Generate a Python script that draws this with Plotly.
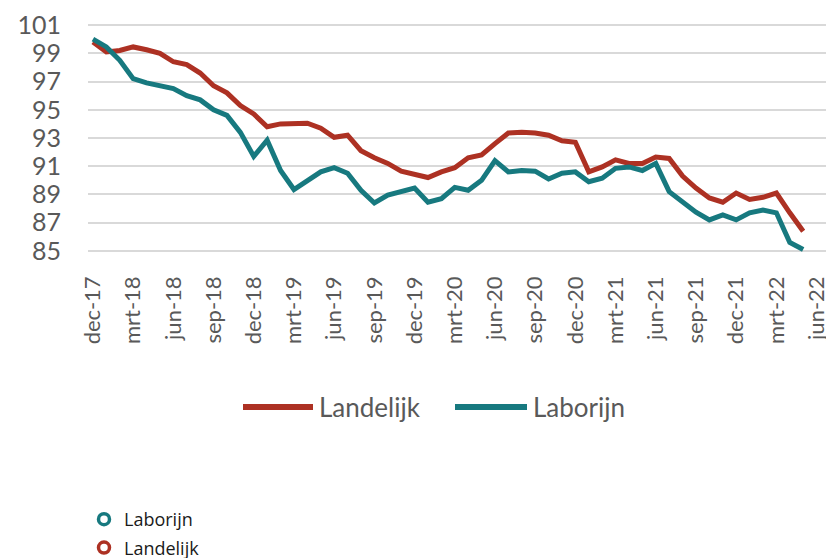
import plotly.graph_objects as go

months = [
    "dec-17", "jan-18", "feb-18", "mrt-18", "apr-18", "mei-18", "jun-18", "jul-18", "aug-18", "sep-18", "okt-18", "nov-18",
    "dec-18", "jan-19", "feb-19", "mrt-19", "apr-19", "mei-19", "jun-19", "jul-19", "aug-19", "sep-19", "okt-19", "nov-19",
    "dec-19", "jan-20", "feb-20", "mrt-20", "apr-20", "mei-20", "jun-20", "jul-20", "aug-20", "sep-20", "okt-20", "nov-20",
    "dec-20", "jan-21", "feb-21", "mrt-21", "apr-21", "mei-21", "jun-21", "jul-21", "aug-21", "sep-21", "okt-21", "nov-21",
    "dec-21", "jan-22", "feb-22", "mrt-22", "apr-22", "mei-22",
]

landelijk = [
    99.8, 99.1, 99.2, 99.45, 99.25, 99.0, 98.4, 98.2, 97.6, 96.7, 96.2, 95.3,
    94.7, 93.8, 94.0, 94.05, 94.05, 93.7, 93.05, 93.2, 92.1, 91.6, 91.2, 90.65,
    90.4, 90.2, 90.6, 90.9, 91.6, 91.8, 92.6, 93.35, 93.4, 93.35, 93.2, 92.8,
    92.7, 90.6, 90.95, 91.45, 91.2, 91.2, 91.65, 91.55, 90.3, 89.45, 88.75, 88.45,
    89.1, 88.65, 88.8, 89.1, 87.7, 86.4,
]

laborijn = [
    100.0, 99.45, 98.5, 97.2, 96.9, 96.7, 96.5, 96.0, 95.7, 95.0, 94.6, 93.4,
    91.7, 92.85, 90.7, 89.35, 89.95, 90.6, 90.9, 90.5, 89.3, 88.4, 88.95, 89.2,
    89.45, 88.45, 88.7, 89.5, 89.3, 90.0, 91.4, 90.6, 90.7, 90.65, 90.1, 90.5,
    90.6, 89.9, 90.15, 90.85, 90.95, 90.7, 91.2, 89.2, 88.45, 87.75, 87.2, 87.55,
    87.2, 87.7, 87.9, 87.7, 85.6, 85.1,
]

tick_labels = ["dec-17", "mrt-18", "jun-18", "sep-18", "dec-18", "mrt-19", "jun-19", "sep-19",
               "dec-19", "mrt-20", "jun-20", "sep-20", "dec-20", "mrt-21", "jun-21", "sep-21",
               "dec-21", "mrt-22", "jun-22"]
y_ticks = [85, 87, 89, 91, 93, 95, 97, 99, 101]

RED = "#AD3123"
TEAL = "#17797F"
GREY = "#595959"

x_idx = list(range(len(months)))
tick_pos = [3 * k for k in range(len(tick_labels))]

fig = go.Figure()
fig.add_trace(go.Scatter(x=x_idx, y=landelijk, mode="lines", name="Landelijk", legendgroup="land",
                         showlegend=False, line=dict(color=RED, width=5), customdata=months,
                         hovertemplate="%{customdata}: %{y}<extra>Landelijk</extra>"))
fig.add_trace(go.Scatter(x=x_idx, y=laborijn, mode="lines", name="Laborijn", legendgroup="lab",
                         showlegend=False, line=dict(color=TEAL, width=5), customdata=months,
                         hovertemplate="%{customdata}: %{y}<extra>Laborijn</extra>"))
# legend entries (bottom)
fig.add_trace(go.Scatter(x=[None], y=[None], mode="markers", name="Laborijn", legendgroup="lab",
                         marker=dict(symbol="circle-open", size=11, color=TEAL, line=dict(width=3.5, color=TEAL))))
fig.add_trace(go.Scatter(x=[None], y=[None], mode="markers", name="Landelijk", legendgroup="land",
                         marker=dict(symbol="circle-open", size=11, color=RED, line=dict(width=3.5, color=RED))))

# page body has an 8px margin: work in screen pixels and subtract it
OFF = 8
FW, FH = 834 - OFF, 558 - OFF
L, T, W, H = 88 - OFF, 18 - OFF, 746, 240


def px(x):
    return (x - OFF - L) / W


def py(y):
    return (T + H - (y - OFF)) / H


# in-chart line legend
for x0, x1, tx, col, txt in [(243, 313, 317, RED, "Landelijk"), (455, 527, 531, TEAL, "Laborijn")]:
    fig.add_shape(type="line", xref="paper", yref="paper", x0=px(x0), x1=px(x1), y0=py(407), y1=py(407),
                  line=dict(color=col, width=6))
    fig.add_annotation(xref="paper", yref="paper", x=px(tx), y=py(407), text=txt, showarrow=False,
                       xanchor="left", yanchor="middle", font=dict(family="Lato", size=26, color=GREY))

fig.update_layout(
    width=FW, height=FH,
    margin=dict(l=L, r=0, t=T, b=FH - T - H, autoexpand=False),
    plot_bgcolor="white", paper_bgcolor="white",
    font=dict(family="Lato", color=GREY),
    showlegend=True,
    legend=dict(xref="container", yref="container", x=(84 - OFF) / FW, y=1 - (501 - OFF) / FH,
                xanchor="left", yanchor="top", traceorder="grouped",
                tracegroupgap=2, font=dict(family="Open Sans", size=18, color="#1a1a1a"),
                bgcolor="rgba(0,0,0,0)"),
    xaxis=dict(range=[-0.37, 55.3], tickvals=tick_pos, ticktext=tick_labels, tickangle=-90,
               showgrid=False, zeroline=False, showline=False, ticks="", automargin=False,
               tickfont=dict(family="Lato", size=22, color=GREY), ticklabelstandoff=13),
    yaxis=dict(range=[84.5, 101.5], tickvals=y_ticks, showgrid=True, gridcolor="#D9D9D9", gridwidth=2,
               zeroline=False, showline=False, ticks="", automargin=False,
               tickfont=dict(family="Lato", size=25, color=GREY), ticklabelstandoff=26),
)

fig.write_html("out.html")
